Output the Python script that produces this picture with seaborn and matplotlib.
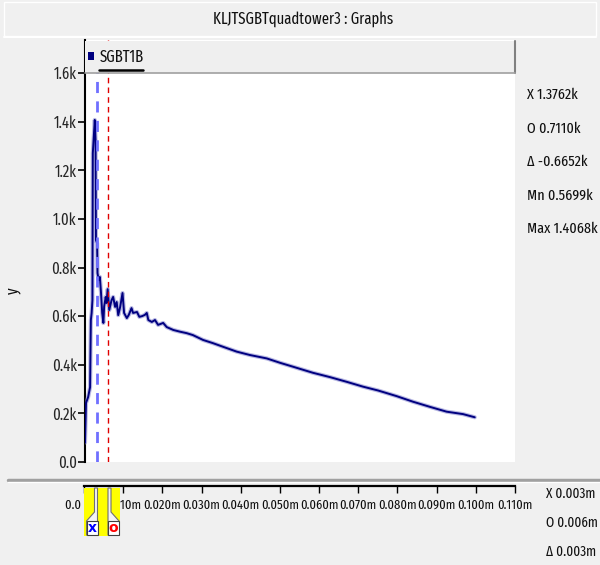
import numpy as np
import pandas as pd
import matplotlib
matplotlib.use("Agg")
import matplotlib.pyplot as plt
import seaborn as sns
from matplotlib import font_manager as fm
from matplotlib.patches import Rectangle, Polygon

# ---------------- data ----------------
title = "KLJTSGBTquadtower3 : Graphs"
series_name = "SGBT1B"
x_vals = [0.0, 0.00026, 0.0008, 0.0013, 0.0015, 0.0017, 0.0019, 0.0020, 0.0023, 0.0025,
          0.0027, 0.0028, 0.0031, 0.0032, 0.0035, 0.0038, 0.0041, 0.0044, 0.0047, 0.0049,
          0.0053, 0.0055, 0.0058, 0.0062, 0.0068, 0.0072, 0.0077, 0.0081, 0.0085, 0.0090,
          0.0096, 0.0100, 0.0107, 0.0112, 0.0119, 0.0123, 0.0133, 0.0139, 0.0146, 0.0153,
          0.0158, 0.0162, 0.0171, 0.0179, 0.0187, 0.0200, 0.0209, 0.0226, 0.0243, 0.0260,
          0.0276, 0.0302, 0.0327, 0.0353, 0.0388, 0.0422, 0.0465, 0.0499, 0.0532, 0.0583,
          0.0627, 0.0669, 0.0711, 0.0750, 0.0797, 0.0839, 0.0882, 0.0925, 0.0967, 0.0997]
y_vals = [80, 243, 267, 308, 584, 613, 666, 1270, 1353, 1407,
          1325, 913, 900, 777, 748, 761, 695, 613, 572, 640,
          679, 654, 711, 625, 666, 679, 638, 658, 604, 638,
          695, 613, 592, 605, 633, 613, 617, 597, 600, 605,
          613, 584, 576, 584, 564, 572, 555, 543, 536, 530,
          522, 502, 489, 474, 454, 440, 426, 408, 392, 367,
          349, 330, 310, 294, 271, 248, 227, 207, 197, 184]
y_ticks = [0, 200, 400, 600, 800, 1000, 1200, 1400, 1600]
y_tick_labels = ["0.0", "0.2k", "0.4k", "0.6k", "0.8k", "1.0k", "1.2k", "1.4k", "1.6k"]
x_ticks = [0.0, 0.01, 0.02, 0.03, 0.04, 0.05, 0.06, 0.07, 0.08, 0.09, 0.10, 0.11]
x_tick_labels = ["0.0", "0.010m", "0.020m", "0.030m", "0.040m", "0.050m", "0.060m",
                 "0.070m", "0.080m", "0.090m", "0.100m", "0.110m"]
cursor_x = [0.003, 0.006]
cursor_names = ["x", "o"]
readout_y = ["X 1.3762k", "O 0.7110k", "\u0394 -0.6652k", "Mn 0.5699k", "Max 1.4068k"]
readout_x = ["X 0.003m", "O 0.006m", "\u0394 0.003m"]

df = pd.DataFrame({"x": x_vals, "y": y_vals})

# ---------------- style ----------------
sns.set_style("white")
avail = {f.name for f in fm.fontManager.ttflist}
fam = [f for f in ["Fira Sans Extra Condensed", "Roboto Condensed", "Liberation Sans",
                   "DejaVu Sans"] if f in avail]
plt.rcParams["font.family"] = fam
FS = 11.5
FS_X = 9.8
FS_R = 11
BG = "#f0f0f0"
TXT = "#111111"

W, H = 600, 565
fig = plt.figure(figsize=(6, 5.65), dpi=100, facecolor=BG)


def px_ax(l, t, r, b, **kw):
    return fig.add_axes([l / W, 1 - b / H, (r - l) / W, (b - t) / H], **kw)


# underlay for frame decorations
under = fig.add_axes([0, 0, 1, 1], zorder=-5)
under.set_xlim(0, W)
under.set_ylim(H, 0)
under.axis("off")
under.add_patch(Rectangle((4, 2), 592, 34, facecolor="#f0f0f0", edgecolor="#ffffff", lw=1))
under.plot([4, 596], [37, 37], color="#ffffff", lw=1.5)
under.plot([8, 600], [480, 480], color="#a0a0a0", lw=2.5)
under.plot([8, 600], [482, 482], color="#ffffff", lw=1)
under.text(303, 19, title, ha="center", va="center", fontsize=FS, color=TXT)

# ---------------- main plot ----------------
ymax = 1600 * (462 - 40) / (462 - 73)
ax = px_ax(85, 40, 515, 462)
ax.set_facecolor("white")
sns.lineplot(data=df, x="x", y="y", ax=ax, color="#8080cc", lw=3.0, alpha=0.55,
             estimator=None, sort=False, zorder=3)
sns.lineplot(data=df, x="x", y="y", ax=ax, color="#000080", lw=1.4,
             estimator=None, sort=False, zorder=4)
ax.axvline(cursor_x[0], color="#7070ff", lw=2, dashes=(4, 3), zorder=5)
ax.axvline(cursor_x[1], color="#e00000", lw=1, dashes=(4, 3), zorder=5)
ax.set_xlim(0, 0.11)
ax.set_ylim(0, ymax)
ax.set_yticks(y_ticks, y_tick_labels)
ax.set_xticks([])
ax.tick_params(axis="y", direction="out", length=5, width=1.2, color="black",
               labelsize=FS, pad=1, left=True)
for s in ["top", "right", "bottom"]:
    ax.spines[s].set_visible(False)
ax.spines["left"].set_color("black")
ax.spines["left"].set_linewidth(1.5)
ax.set_xlabel("")
ax.set_ylabel("")

# ---------------- overview x-axis ----------------
ax2 = px_ax(84, 486, 515, 545)
ax2.set_facecolor("none")
ax2.set_xlim(0, 0.11)
ax2.set_ylim(0, 1)
for s in ["left", "right", "bottom"]:
    ax2.spines[s].set_visible(False)
ax2.spines["top"].set_color("black")
ax2.spines["top"].set_linewidth(1.6)
ax2.set_yticks([])
ax2.set_xticks(x_ticks)
ax2.tick_params(axis="x", top=True, bottom=False, labeltop=False, labelbottom=False,
                direction="in", length=5, width=1, color="black")
for i, (t, lab) in enumerate(zip(x_ticks, x_tick_labels)):
    ax2.text(t, 0.68, (lab + " ") if i == 0 else lab, transform=ax2.get_xaxis_transform(),
             ha="right" if i == 0 else "center", va="center", fontsize=FS_X, color=TXT)

# ---------------- overlay decorations ----------------
ov = fig.add_axes([0, 0, 1, 1], zorder=20)
ov.set_xlim(0, W)
ov.set_ylim(H, 0)
ov.axis("off")
ov.patch.set_alpha(0)
# legend box
ov.add_patch(Rectangle((85, 41), 430, 32, facecolor="#efefef", edgecolor="none"))
ov.plot([515, 515], [41, 73], color="#808080", lw=1.5)
ov.plot([85, 515], [73, 73], color="#a0a0a0", lw=1.2)
ov.add_patch(Rectangle((88, 52), 6, 8, facecolor="#000080", edgecolor="none"))
ov.text(100, 57, series_name, ha="left", va="center", fontsize=FS, color=TXT)
ov.plot([99, 143], [69.5, 69.5], color="black", lw=1.8)
# y label
ov.text(13, 291, "y", ha="center", va="center", rotation=90, fontsize=FS, color=TXT)
# readouts
for i, s in enumerate(readout_y):
    ov.text(527, 95 + i * 33.5, s, ha="left", va="center", fontsize=FS_R, color=TXT)
for i, s in enumerate(readout_x):
    ov.text(546, 494 + i * 29, s, ha="left", va="center", fontsize=FS_X + 0.5, color=TXT)
# cursor handles on overview axis
ov.add_patch(Rectangle((84, 488), 36, 48, facecolor="#ffff00", edgecolor="none"))
xs_handle = [(96.5, "right"), (109, "left")]
for (xc, side), name, col in zip(xs_handle, cursor_names, ["#0000ff", "#ff0000"]):
    if side == "right":
        poly = [(xc - 2, 488), (xc + 1, 488), (xc + 1, 512), (xc + 1, 521),
                (xc + 1, 535), (xc - 10, 535), (xc - 10, 521), (xc - 2, 512)]
        box = (xc - 10, 521, 11, 14)
    else:
        poly = [(xc - 1, 488), (xc + 2, 488), (xc + 2, 512), (xc + 10, 521),
                (xc + 10, 535), (xc - 1, 535), (xc - 1, 521), (xc - 1, 512)]
        box = (xc - 1, 521, 11, 14)
    ov.add_patch(Polygon(poly, closed=True, facecolor="#f4f4f4", edgecolor="#707070", lw=0.8))
    ov.add_patch(Rectangle(box[:2], box[2], box[3], facecolor="white", edgecolor="#404040", lw=0.8))
    ov.text(box[0] + box[2] / 2, box[1] + box[3] / 2 + 0.5, name,
            ha="center", va="center", fontsize=10, fontweight="bold", color=col,
            family=["DejaVu Sans"])

fig.savefig("out.png", dpi=100, facecolor=BG)
